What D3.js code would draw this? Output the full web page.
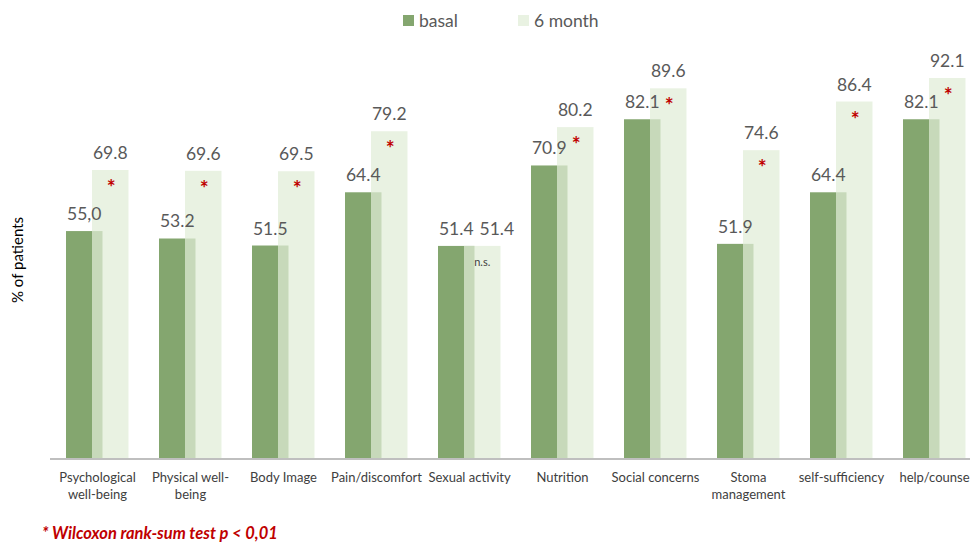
<!DOCTYPE html>
<html>
<head>
<meta charset="utf-8">
<script src="https://cdn.jsdelivr.net/npm/d3@7"></script>
<style>
  html, body { margin: 0; padding: 0; background: #fff; }
  svg { display: block; font-family: Lato, "Open Sans", sans-serif; }
</style>
</head>
<body>
<svg id="chart" width="970" height="542"></svg>
<script>
// ---- data ----
const categories = [
  ["Psychological", "well-being"],
  ["Physical well-", "being"],
  ["Body Image"],
  ["Pain/discomfort"],
  ["Sexual activity"],
  ["Nutrition"],
  ["Social concerns"],
  ["Stoma", "management"],
  ["self-sufficiency"],
  ["help/counse"]
];
const seriesNames = ["basal", "6 month"];
const basal = [55.0, 53.2, 51.5, 64.4, 51.4, 70.9, 82.1, 51.9, 64.4, 82.1];
const month6 = [69.8, 69.6, 69.5, 79.2, 51.4, 80.2, 89.6, 74.6, 86.4, 92.1];
const basalLabels = ["55,0", "53.2", "51.5", "64.4", "51.4", "70.9", "82.1", "51.9", "64.4", "82.1"];
const month6Labels = ["69.8", "69.6", "69.5", "79.2", "51.4", "80.2", "89.6", "74.6", "86.4", "92.1"];
const significance = ["*", "*", "*", "*", "n.s.", "*", "*", "*", "*", "*"];
const yAxisTitle = "% of patients";
const footnote = "* Wilcoxon rank-sum test p < 0,01";

// ---- layout ----
const svg = d3.select("#chart");
const axisY = 458;
const x = d3.scaleBand().domain(d3.range(categories.length)).range([51, 51 + 93 * categories.length]).padding(0);
const y = d3.scaleLinear().domain([0, 100]).range([axisY, axisY - 412.6]);

const barW = 36.5;
const offBasal = 15;
const off6 = 41;

const cBasal = "#84a66f";
const c6 = "rgb(224,237,215)";
const c6legend = "#e9f2e2";
const textCol = "#595959";
const labelSize = 17.5;

// basal bars
svg.append("g").selectAll("rect").data(basal).join("rect")
  .attr("x", (d, i) => x(i) + offBasal)
  .attr("y", d => y(d))
  .attr("width", barW)
  .attr("height", d => axisY - y(d))
  .attr("fill", cBasal);

// 6 month bars (semi-transparent, overlapping)
svg.append("g").selectAll("rect").data(month6).join("rect")
  .attr("x", (d, i) => x(i) + off6)
  .attr("y", d => y(d))
  .attr("width", barW)
  .attr("height", d => axisY - y(d))
  .attr("fill", c6)
  .attr("fill-opacity", 0.72);

// axis line
svg.append("line")
  .attr("x1", 50).attr("x2", 970)
  .attr("y1", axisY + 1).attr("y2", axisY + 1)
  .attr("stroke", "#bfbfbf").attr("stroke-width", 2);

// value labels
const bl = svg.append("g").selectAll("text").data(basalLabels).join("text")
  .attr("x", (d, i) => x(i) + offBasal + barW / 2)
  .attr("y", (d, i) => y(basal[i]) - 11)
  .attr("text-anchor", "middle")
  .attr("font-size", labelSize)
  .attr("fill", textCol)
  .text(d => d);

const ml = svg.append("g").selectAll("text").data(month6Labels).join("text")
  .attr("x", (d, i) => x(i) + off6 + barW / 2)
  .attr("y", (d, i) => y(month6[i]) - 11)
  .attr("text-anchor", "middle")
  .attr("font-size", labelSize)
  .attr("fill", textCol)
  .text(d => d);

// avoid label collisions (shift 6-month label right when at same height)
const bNodes = bl.nodes();
ml.each(function (d, i) {
  const bb = bNodes[i].getBBox();
  const mb = this.getBBox();
  const vOverlap = Math.abs(bb.y - mb.y) < bb.height * 0.8;
  if (vOverlap && mb.x < bb.x + bb.width + 5) {
    const shift = bb.x + bb.width + 6 - mb.x;
    d3.select(this).attr("x", +d3.select(this).attr("x") + shift);
  }
});

// significance markers
svg.append("g").selectAll("text").data(significance).join("text")
  .attr("x", (d, i) => x(i) + off6 + barW / 2 + (d === "*" ? 1 : 0))
  .attr("y", (d, i) => y(month6[i]) + (d === "*" ? 25 : 20))
  .attr("text-anchor", "middle")
  .attr("font-size", d => d === "*" ? 21 : 11)
  .attr("font-weight", d => d === "*" ? "bold" : "normal")
  .attr("fill", d => d === "*" ? "#c00000" : "#404040")
  .text(d => d);

// category labels
const cat = svg.append("g").selectAll("text").data(categories).join("text")
  .attr("x", (d, i) => x(i) + x.bandwidth() / 2)
  .attr("y", 482)
  .attr("text-anchor", "middle")
  .attr("font-size", 13)
  .attr("fill", "#404040");
cat.selectAll("tspan").data(d => d).join("tspan")
  .attr("x", function () { return d3.select(this.parentNode).attr("x"); })
  .attr("dy", (d, j) => j === 0 ? 0 : 17)
  .text(d => d);

// y axis title
svg.append("text")
  .attr("transform", `translate(23,${260}) rotate(-90)`)
  .attr("text-anchor", "middle")
  .attr("font-size", 15)
  .attr("fill", "#000")
  .text(yAxisTitle);

// legend
const legend = svg.append("g");
const legendItems = [{ name: seriesNames[0], color: cBasal, x: 403 }, { name: seriesNames[1], color: c6legend, x: 518 }];
legendItems.forEach(it => {
  legend.append("rect").attr("x", it.x).attr("y", 15).attr("width", 11).attr("height", 11).attr("fill", it.color);
  legend.append("text").attr("x", it.x + 16).attr("y", 27).attr("font-size", 17.5).attr("fill", textCol).text(it.name);
});

// footnote
svg.append("text")
  .attr("x", 42).attr("y", 539)
  .attr("font-size", 16.5)
  .attr("font-weight", "bold")
  .attr("font-style", "italic")
  .attr("fill", "#c00000")
  .text(footnote);
</script>
</body>
</html>
